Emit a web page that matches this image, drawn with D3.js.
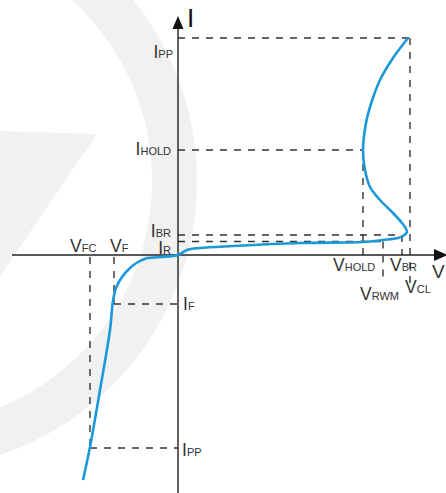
<!DOCTYPE html>
<html>
<head>
<meta charset="utf-8">
<script src="https://cdn.jsdelivr.net/npm/d3@7"></script>
<style>
  html, body { margin: 0; padding: 0; background: #fff; }
  svg { display: block; font-family: "Liberation Sans", Arial, sans-serif; }
</style>
</head>
<body>
<div id="chart"></div>
<script>
// I-V curve of a TVS / ESD diode (schematic units, origin at the axes crossing)
var width = 446
var height = 493

// forward branch (third quadrant), from the clamp end up to the knee
var fwdV = [-9.5, -8.8, -7.8, -6.8, -6.5, -6.2, -5.6, -4.8, -4.0, -3.1]
var fwdI = [-22.5, -19.2, -13.5, -7.5, -4.6, -3.3, -2.2, -1.3, -0.7, -0.3]

// reverse branch, from the knee through the origin, breakdown and snapback
var revV = [-3.1, -1.8, 0, 0.9, 2.2, 5.5, 12.2, 18.5, 20.5, 22.0, 22.5, 22.9, 22.7, 22.4, 21.5, 20.2, 19.2, 18.7, 18.5, 18.8, 19.2, 20.2, 21.5, 23.0]
var revI = [-0.3, -0.2, 0, 0.5, 0.7, 0.9, 1.2, 1.3, 1.5, 1.7, 1.9, 2.3, 2.8, 3.2, 4.2, 5.5, 6.8, 8.5, 10.5, 13.2, 14.8, 17.5, 19.7, 21.7]

// reference levels
var vNames = ["FC", "F", "HOLD", "RWM", "BR", "CL"]
var vLevels = [-8.8, -6.4, 18.5, 20.5, 22.4, 23.2]
var iNames = ["PP", "HOLD", "BR", "R", "F", "PP"]
var iLevels = [21.7, 10.5, 2.0, 1.35, -4.9, -19.3]

var x = d3.scaleLinear().domain([-17, 27]).range([8, 448])
var y = d3.scaleLinear().domain([-23.5, 25.5]).range([490, 0])

var svg = d3.select("#chart").append("svg")
    .attr("width", width)
    .attr("height", height)

// faint logo watermark in the background
var wm = svg.append("g").attr("fill", "#f1f1f1")
wm.append("path")
  .attr("fill-rule", "evenodd")
  .attr("d", d3.arc()({innerRadius: 244, outerRadius: 289, startAngle: 0, endAngle: 2 * Math.PI}))
  .attr("transform", "translate(-92,181)")
wm.append("path")
  .attr("d", "M0,131L97,134L0,276Z")

// dashed guide lines: [v1, i1, v2, i2]
var guides = [
  [0, iLevels[0], vLevels[5], iLevels[0]],
  [vLevels[5], iLevels[0], vLevels[5], -2.8],
  [0, iLevels[1], vLevels[2], iLevels[1]],
  [vLevels[2], iLevels[1], vLevels[2], 0],
  [0, iLevels[2], vLevels[4], iLevels[2]],
  [vLevels[4], iLevels[2], vLevels[4], 0],
  [0, iLevels[3], vLevels[3], iLevels[3]],
  [vLevels[3], iLevels[3], vLevels[3], -2.8],
  [vLevels[1], iLevels[4], 0, iLevels[4]],
  [vLevels[1], -0.2, vLevels[1], iLevels[4]],
  [vLevels[0], iLevels[5], 0, iLevels[5]],
  [vLevels[0], -0.2, vLevels[0], iLevels[5]]
]

svg.append("g").selectAll("line")
  .data(guides)
  .enter().append("line")
  .attr("x1", function(d){ return x(d[0]) })
  .attr("y1", function(d){ return y(d[1]) })
  .attr("x2", function(d){ return x(d[2]) })
  .attr("y2", function(d){ return y(d[3]) })
  .attr("stroke", "#333")
  .attr("stroke-width", 1.4)
  .attr("stroke-dasharray", "7,7")

// axes
var x0 = x(0), y0 = y(0)
svg.append("line")
  .attr("x1", 12).attr("y1", y0).attr("x2", 440).attr("y2", y0)
  .attr("stroke", "#222").attr("stroke-width", 1.4)
svg.append("line")
  .attr("x1", x0).attr("y1", 493).attr("x2", x0).attr("y2", 25)
  .attr("stroke", "#222").attr("stroke-width", 1.4)
svg.append("path")
  .attr("d", "M" + (x0 - 5.5) + ",29L" + x0 + ",16L" + (x0 + 5.5) + ",29Z")
  .attr("fill", "#111")
svg.append("path")
  .attr("d", "M434," + (y0 - 6) + "L448," + y0 + "L434," + (y0 + 6) + "Z")
  .attr("fill", "#111")

svg.append("text").attr("x", 187).attr("y", 27)
  .attr("font-size", 26).attr("fill", "#111").text("I")
svg.append("text").attr("x", 432).attr("y", 278)
  .attr("font-size", 19).attr("fill", "#333").text("V")

// the I-V curve
var line = d3.line()
  .x(function(d){ return x(d[0]) })
  .y(function(d){ return y(d[1]) })
  .curve(d3.curveCatmullRom.alpha(0.5))

var fwd = fwdV.map(function(v, i){ return [v, fwdI[i]] })
var rev = revV.map(function(v, i){ return [v, revI[i]] })

svg.selectAll(".curve")
  .data([fwd, rev])
  .enter().append("path")
  .attr("class", "curve")
  .attr("d", line)
  .attr("fill", "none")
  .attr("stroke", "#1b98d8")
  .attr("stroke-width", 2.6)
  .attr("stroke-linejoin", "round")

// labels: main letter, subscript, anchor x, baseline y, anchor
var labels = [
  ["I", iNames[0], 173, 58, "end"],
  ["I", iNames[1], 171, 155, "end"],
  ["I", iNames[2], 171, 237, "end"],
  ["I", iNames[3], 171, 254, "end"],
  ["I", iNames[4], 183, 310, "start"],
  ["I", iNames[5], 182, 456, "start"],
  ["V", vNames[0], 70, 252, "start"],
  ["V", vNames[1], 110, 252, "start"],
  ["V", vNames[2], 333, 271, "start"],
  ["V", vNames[3], 360, 300, "start"],
  ["V", vNames[4], 390, 271, "start"],
  ["V", vNames[5], 405, 293, "start"]
]

var lab = svg.append("g").selectAll("text")
  .data(labels)
  .enter().append("text")
  .attr("x", function(d){ return d[2] })
  .attr("y", function(d){ return d[3] })
  .attr("text-anchor", function(d){ return d[4] })
  .attr("fill", "#333")
lab.append("tspan").attr("font-size", 17.5).text(function(d){ return d[0] })
lab.append("tspan").attr("font-size", 11).text(function(d){ return d[1] })
</script>
</body>
</html>
